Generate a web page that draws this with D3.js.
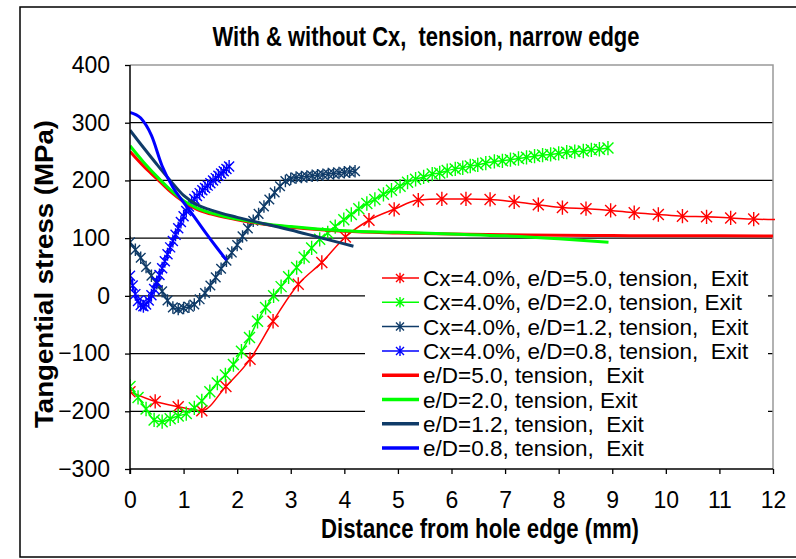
<!DOCTYPE html>
<html>
<head>
<meta charset="utf-8">
<script src="https://cdn.jsdelivr.net/npm/d3@7"></script>
<style>
  body { margin: 0; background: #fff; }
  svg { display: block; }
</style>
</head>
<body>
<svg id="chart"></svg>
<script>
const xTicks = [0, 1, 2, 3, 4, 5, 6, 7, 8, 9, 10, 11, 12];
const yTicks = [-300, -200, -100, 0, 100, 200, 300, 400];

// Cx=4.0% series (with markers), [distance mm, stress MPa]
const cxED50 = [
  [0, -166], [0.47, -183], [0.9, -192], [1.34, -199], [1.79, -157], [2.24, -110],
  [2.67, -44], [3.14, 20], [3.58, 58], [4.02, 102], [4.46, 131], [4.93, 150],
  [5.38, 166], [5.82, 168], [6.27, 168], [6.72, 167], [7.17, 163], [7.62, 158],
  [8.07, 153], [8.51, 151], [8.97, 148], [9.41, 144], [9.86, 141], [10.31, 138],
  [10.76, 137], [11.21, 135], [11.64, 133], [12.1, 132]
];
const cxED20 = [
  [0, -157], [0.15, -176], [0.3, -196], [0.45, -215], [0.6, -218], [0.75, -213],
  [0.9, -208], [1.05, -204], [1.2, -194], [1.34, -182], [1.49, -166], [1.63, -151],
  [1.78, -137], [1.93, -119], [2.08, -96], [2.23, -72], [2.38, -44], [2.53, -20],
  [2.68, 0], [2.82, 16], [2.96, 33], [3.11, 49], [3.25, 67], [3.39, 83],
  [3.54, 98], [3.69, 109], [3.83, 120], [3.99, 132], [4.13, 141], [4.27, 151],
  [4.42, 160], [4.57, 167], [4.73, 176], [4.88, 183], [5.04, 190], [5.18, 197],
  [5.33, 202], [5.48, 206], [5.64, 211], [5.78, 213], [5.92, 217], [6.07, 220],
  [6.21, 222], [6.35, 225], [6.49, 227], [6.64, 230], [6.8, 233], [6.95, 234],
  [7.1, 236], [7.25, 238], [7.4, 240], [7.55, 242], [7.7, 244], [7.85, 245],
  [8.0, 247], [8.15, 249], [8.3, 250], [8.46, 251], [8.61, 253], [8.76, 254],
  [8.92, 256]
];
const cxED12 = [
  [0, 93], [0.1, 80], [0.2, 66], [0.3, 50], [0.4, 35], [0.5, 22], [0.6, 8],
  [0.7, -8], [0.8, -20], [0.9, -23], [1.0, -21], [1.1, -19], [1.2, -15],
  [1.3, -6], [1.4, 5], [1.5, 18], [1.6, 32], [1.7, 47], [1.8, 61], [1.9, 75],
  [2.0, 88], [2.1, 103], [2.2, 117], [2.3, 130], [2.4, 142], [2.5, 155],
  [2.6, 167], [2.7, 179], [2.8, 190], [2.9, 199], [3.0, 203], [3.1, 205],
  [3.2, 206], [3.3, 207], [3.4, 208], [3.5, 209], [3.6, 210], [3.7, 211],
  [3.8, 212], [3.9, 213], [4.0, 214], [4.1, 215], [4.2, 216]
];
const cxED08 = [
  [0, 35], [0.05, 18], [0.1, 3], [0.15, -9], [0.2, -16], [0.25, -18], [0.3, -15],
  [0.35, -8], [0.4, 1], [0.45, 12], [0.5, 24], [0.55, 36], [0.6, 48], [0.65, 60],
  [0.7, 72], [0.75, 84], [0.8, 95], [0.85, 106], [0.9, 117], [0.95, 128],
  [1.0, 138], [1.05, 147], [1.1, 155], [1.15, 162], [1.2, 168], [1.25, 173],
  [1.3, 178], [1.35, 183], [1.4, 187], [1.45, 191], [1.5, 195], [1.55, 200],
  [1.6, 204], [1.65, 208], [1.7, 212], [1.75, 216], [1.8, 220], [1.85, 224]
];

// without Cx (plain lines)
const ED50 = [
  [0, 250], [0.25, 225], [0.5, 203], [0.75, 181], [1.0, 163], [1.25, 150],
  [1.5, 142], [2.0, 132], [2.5, 124], [3.0, 119], [3.5, 115], [4.0, 112],
  [5.0, 109], [6.0, 107], [7.0, 106], [8.0, 105], [9.0, 104.5], [10.0, 104],
  [11.0, 104], [12.0, 103.5]
];
const ED20 = [
  [0, 260], [0.25, 232], [0.5, 207], [0.75, 184], [1.0, 165], [1.25, 152],
  [1.5, 144], [2.0, 133], [2.5, 125], [3.0, 120], [3.5, 116], [4.0, 113],
  [5.0, 110], [6.0, 107], [7.0, 104], [8.0, 99], [8.93, 93]
];
const ED12 = [
  [0, 287], [0.25, 257], [0.5, 228], [0.75, 200], [1.0, 174], [1.25, 158],
  [1.5, 149], [2.0, 136], [2.5, 125], [3.0, 114], [3.5, 102], [4.0, 90],
  [4.17, 86]
];
const ED08 = [
  [0, 318], [0.2, 308], [0.4, 278], [0.6, 225], [0.8, 188], [1.0, 162],
  [1.2, 137], [1.4, 111], [1.6, 86], [1.8, 62]
];

const legendLabels = [
  "Cx=4.0%, e/D=5.0, tension,  Exit",
  "Cx=4.0%, e/D=2.0, tension, Exit",
  "Cx=4.0%, e/D=1.2, tension,  Exit",
  "Cx=4.0%, e/D=0.8, tension,  Exit",
  "e/D=5.0, tension,  Exit",
  "e/D=2.0, tension, Exit",
  "e/D=1.2, tension,  Exit",
  "e/D=0.8, tension,  Exit"
];

const red = "#ff0000", green = "#00ff00", navy = "#0f3b68", blue = "#0000ff";

const series = [
  { data: cxED50, color: red, width: 1.5, marker: 5.5 },
  { data: cxED20, color: green, width: 1.5, marker: 5.5 },
  { data: cxED12, color: navy, width: 1.5, marker: 4.8 },
  { data: cxED08, color: blue, width: 1.5, marker: 5 },
  { data: ED50, color: red, width: 3, marker: 0 },
  { data: ED20, color: green, width: 3, marker: 0 },
  { data: ED12, color: navy, width: 3, marker: 0 },
  { data: ED08, color: blue, width: 3, marker: 0 }
];

const width = 796, height = 559;
const narrow = "'Liberation Sans Narrow', 'Arial Narrow', sans-serif";
const regular = "'Liberation Sans', Arial, sans-serif";

const plot0 = { left: 130, right: 773, top: 65, bottom: 469 };

const x = d3.scaleLinear().domain([0, 12]).range([plot0.left, plot0.right]);
const y = d3.scaleLinear().domain([-300, 400]).range([plot0.bottom, plot0.top]);

const svg = d3.select("#chart").attr("width", width).attr("height", height);

svg.append("rect").attr("width", width).attr("height", height).attr("fill", "#fff");

// outer chart border
svg.append("rect")
  .attr("x", 20).attr("y", 7)
  .attr("width", 800).attr("height", 550)
  .attr("fill", "none").attr("stroke", "#000").attr("stroke-width", 1.5);

svg.append("text")
  .attr("x", 426).attr("y", 46)
  .attr("text-anchor", "middle")
  .attr("font-family", narrow).attr("font-weight", "bold").attr("font-size", 27)
  .attr("textLength", 427).attr("lengthAdjust", "spacingAndGlyphs")
  .style("white-space", "pre")
  .text("With & without Cx,  tension, narrow edge");

// grid
svg.append("g")
  .selectAll("line")
  .data(yTicks.filter((d) => d > -300 && d < 400))
  .join("line")
  .attr("x1", plot0.left).attr("x2", plot0.right)
  .attr("y1", (d) => y(d)).attr("y2", (d) => y(d))
  .attr("stroke", "#000").attr("stroke-width", 1.3);

// plot area border (top / right)
svg.append("path")
  .attr("d", `M${plot0.left},${plot0.top}H${plot0.right}V${plot0.bottom}`)
  .attr("fill", "none").attr("stroke", "#999").attr("stroke-width", 1.5);

svg.append("clipPath").attr("id", "plot-clip")
  .append("rect")
  .attr("x", plot0.left).attr("y", plot0.top - 10)
  .attr("width", plot0.right - plot0.left + 2)
  .attr("height", plot0.bottom - plot0.top + 10);

const line = d3.line()
  .x((d) => x(d[0]))
  .y((d) => y(d[1]))
  .curve(d3.curveMonotoneX);

const star = (s) =>
  `M${-s},${-s}L${s},${s}M${-s},${s}L${s},${-s}M0,${-s * 1.3}L0,${s * 1.3}`;

const plot = svg.append("g").attr("clip-path", "url(#plot-clip)");

series.forEach((s) => {
  const g = plot.append("g");
  g.append("path")
    .datum(s.data)
    .attr("d", line)
    .attr("fill", "none")
    .attr("stroke", s.color)
    .attr("stroke-width", s.width)
    .attr("stroke-linejoin", "round");
  if (s.marker) {
    g.selectAll("path.m")
      .data(s.data.filter((d) => d[0] <= 12))
      .join("path")
      .attr("class", "m")
      .attr("transform", (d) => `translate(${x(d[0])},${y(d[1])})`)
      .attr("d", star(s.marker))
      .attr("stroke", s.color)
      .attr("stroke-width", 1.4)
      .attr("fill", "none");
  }
});

// axes
const yAxis = svg.append("g")
  .attr("transform", `translate(${plot0.left},0)`)
  .call(d3.axisLeft(y).tickValues(yTicks).tickSize(5).tickPadding(15));

const xAxis = svg.append("g")
  .attr("transform", `translate(0,${plot0.bottom})`)
  .call(d3.axisBottom(x).tickValues(xTicks).tickSize(5).tickPadding(18));

[yAxis, xAxis].forEach((a) => {
  a.select(".domain").attr("stroke", "#000").attr("stroke-width", 1.5);
  a.selectAll(".tick line").attr("stroke", "#000").attr("stroke-width", 1.3);
  a.selectAll("text")
    .attr("font-family", regular)
    .attr("font-size", 23)
    .attr("fill", "#000");
});
yAxis.select(".domain").attr("d", `M0,${plot0.top}V${plot0.bottom + 5}`);
xAxis.select(".domain").attr("d", `M${plot0.left},0H${plot0.right}`);

svg.append("text")
  .attr("x", 480).attr("y", 538)
  .attr("text-anchor", "middle")
  .attr("font-family", narrow).attr("font-weight", "bold").attr("font-size", 27)
  .attr("textLength", 318).attr("lengthAdjust", "spacingAndGlyphs")
  .text("Distance from hole edge (mm)");

svg.append("text")
  .attr("transform", "translate(53,274) rotate(-90)")
  .attr("text-anchor", "middle")
  .attr("font-family", regular).attr("font-weight", "bold").attr("font-size", 26)
  .attr("textLength", 308).attr("lengthAdjust", "spacingAndGlyphs")
  .text("Tangential stress (MPa)");

// legend
const legend = svg.append("g");
legend.append("rect")
  .attr("x", 365).attr("y", 263)
  .attr("width", 403).attr("height", 197)
  .attr("fill", "#fff");

const rowY = (i) => 278 + i * 24.3;

legendLabels.forEach((label, i) => {
  const s = series[i];
  const cy = rowY(i);
  legend.append("line")
    .attr("x1", 382).attr("x2", 419)
    .attr("y1", cy).attr("y2", cy)
    .attr("stroke", s.color)
    .attr("stroke-width", s.marker ? 1.5 : 3.5);
  if (s.marker) {
    legend.append("path")
      .attr("transform", `translate(400,${cy})`)
      .attr("d", star(4))
      .attr("stroke", s.color)
      .attr("stroke-width", 1.4)
      .attr("fill", "none");
  }
  legend.append("text")
    .attr("x", 423).attr("y", cy + 8)
    .attr("font-family", regular).attr("font-size", 22.5)
    .style("white-space", "pre")
    .text(label);
});
</script>
</body>
</html>
